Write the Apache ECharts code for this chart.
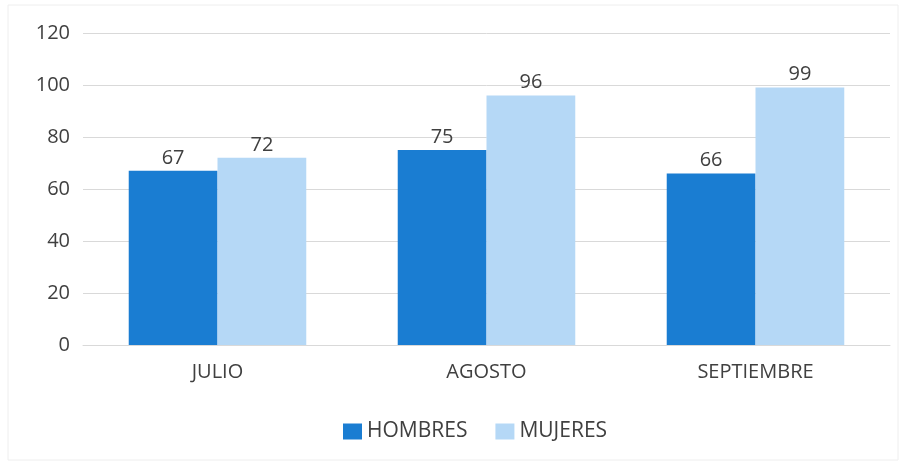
<!DOCTYPE html>
<html>
<head>
<meta charset="utf-8">
<script src="https://cdn.jsdelivr.net/npm/echarts@6/dist/echarts.min.js"></script>
<style>
  html, body { margin: 0; padding: 0; background: #fff; }
  #chart { width: 902px; height: 464px; }
</style>
</head>
<body>
<div id="chart"></div>
<script>
// datos
const meses = ["JULIO", "AGOSTO", "SEPTIEMBRE"];
const hombres = [67, 75, 66];
const mujeres = [72, 96, 99];
const yTicks = [0, 20, 40, 60, 80, 100, 120];

const textColor = "#404040";
const font = "'Open Sans', sans-serif";

const chart = echarts.init(document.getElementById("chart"));
const option = {
  backgroundColor: "#fff",
  textStyle: { fontFamily: font },
  graphic: [
    {
      // marco tenue del recuadro
      type: "rect",
      shape: { x: 8, y: 5, width: 890, height: 455 },
      style: { fill: "none", stroke: "#eeeeee", lineWidth: 1 },
      silent: true,
    },
  ],
  grid: { left: 83, right: 12, top: 33, bottom: 119 },
  legend: {
    bottom: 17,
    left: 338,
    itemWidth: 19,
    itemHeight: 16,
    itemGap: 28,
    icon: "rect",
    textStyle: { color: textColor, fontSize: 21, fontFamily: font },
    data: ["HOMBRES", "MUJERES"],
  },
  xAxis: {
    type: "category",
    data: meses,
    axisLine: { show: true, lineStyle: { color: "#d9d9d9" } },
    axisTick: { show: false },
    axisLabel: { color: textColor, fontSize: 20, margin: 17, fontFamily: font },
  },
  yAxis: {
    type: "value",
    min: yTicks[0],
    max: yTicks[yTicks.length - 1],
    interval: 20,
    axisLine: { show: false },
    axisTick: { show: false },
    axisLabel: { color: textColor, fontSize: 20, margin: 13, fontFamily: font },
    splitLine: { lineStyle: { color: "#d9d9d9", width: 1 } },
  },
  series: [
    {
      name: "HOMBRES",
      type: "bar",
      data: hombres,
      barGap: "0%",
      barCategoryGap: "34%",
      itemStyle: { color: "#1a7dd2" },
      label: { show: true, position: "top", color: textColor, fontSize: 20, distance: 3, fontFamily: font },
    },
    {
      name: "MUJERES",
      type: "bar",
      data: mujeres,
      itemStyle: { color: "#b5d8f6" },
      label: { show: true, position: "top", color: textColor, fontSize: 20, distance: 3, fontFamily: font },
    },
  ],
};
chart.setOption(option);
</script>
</body>
</html>
